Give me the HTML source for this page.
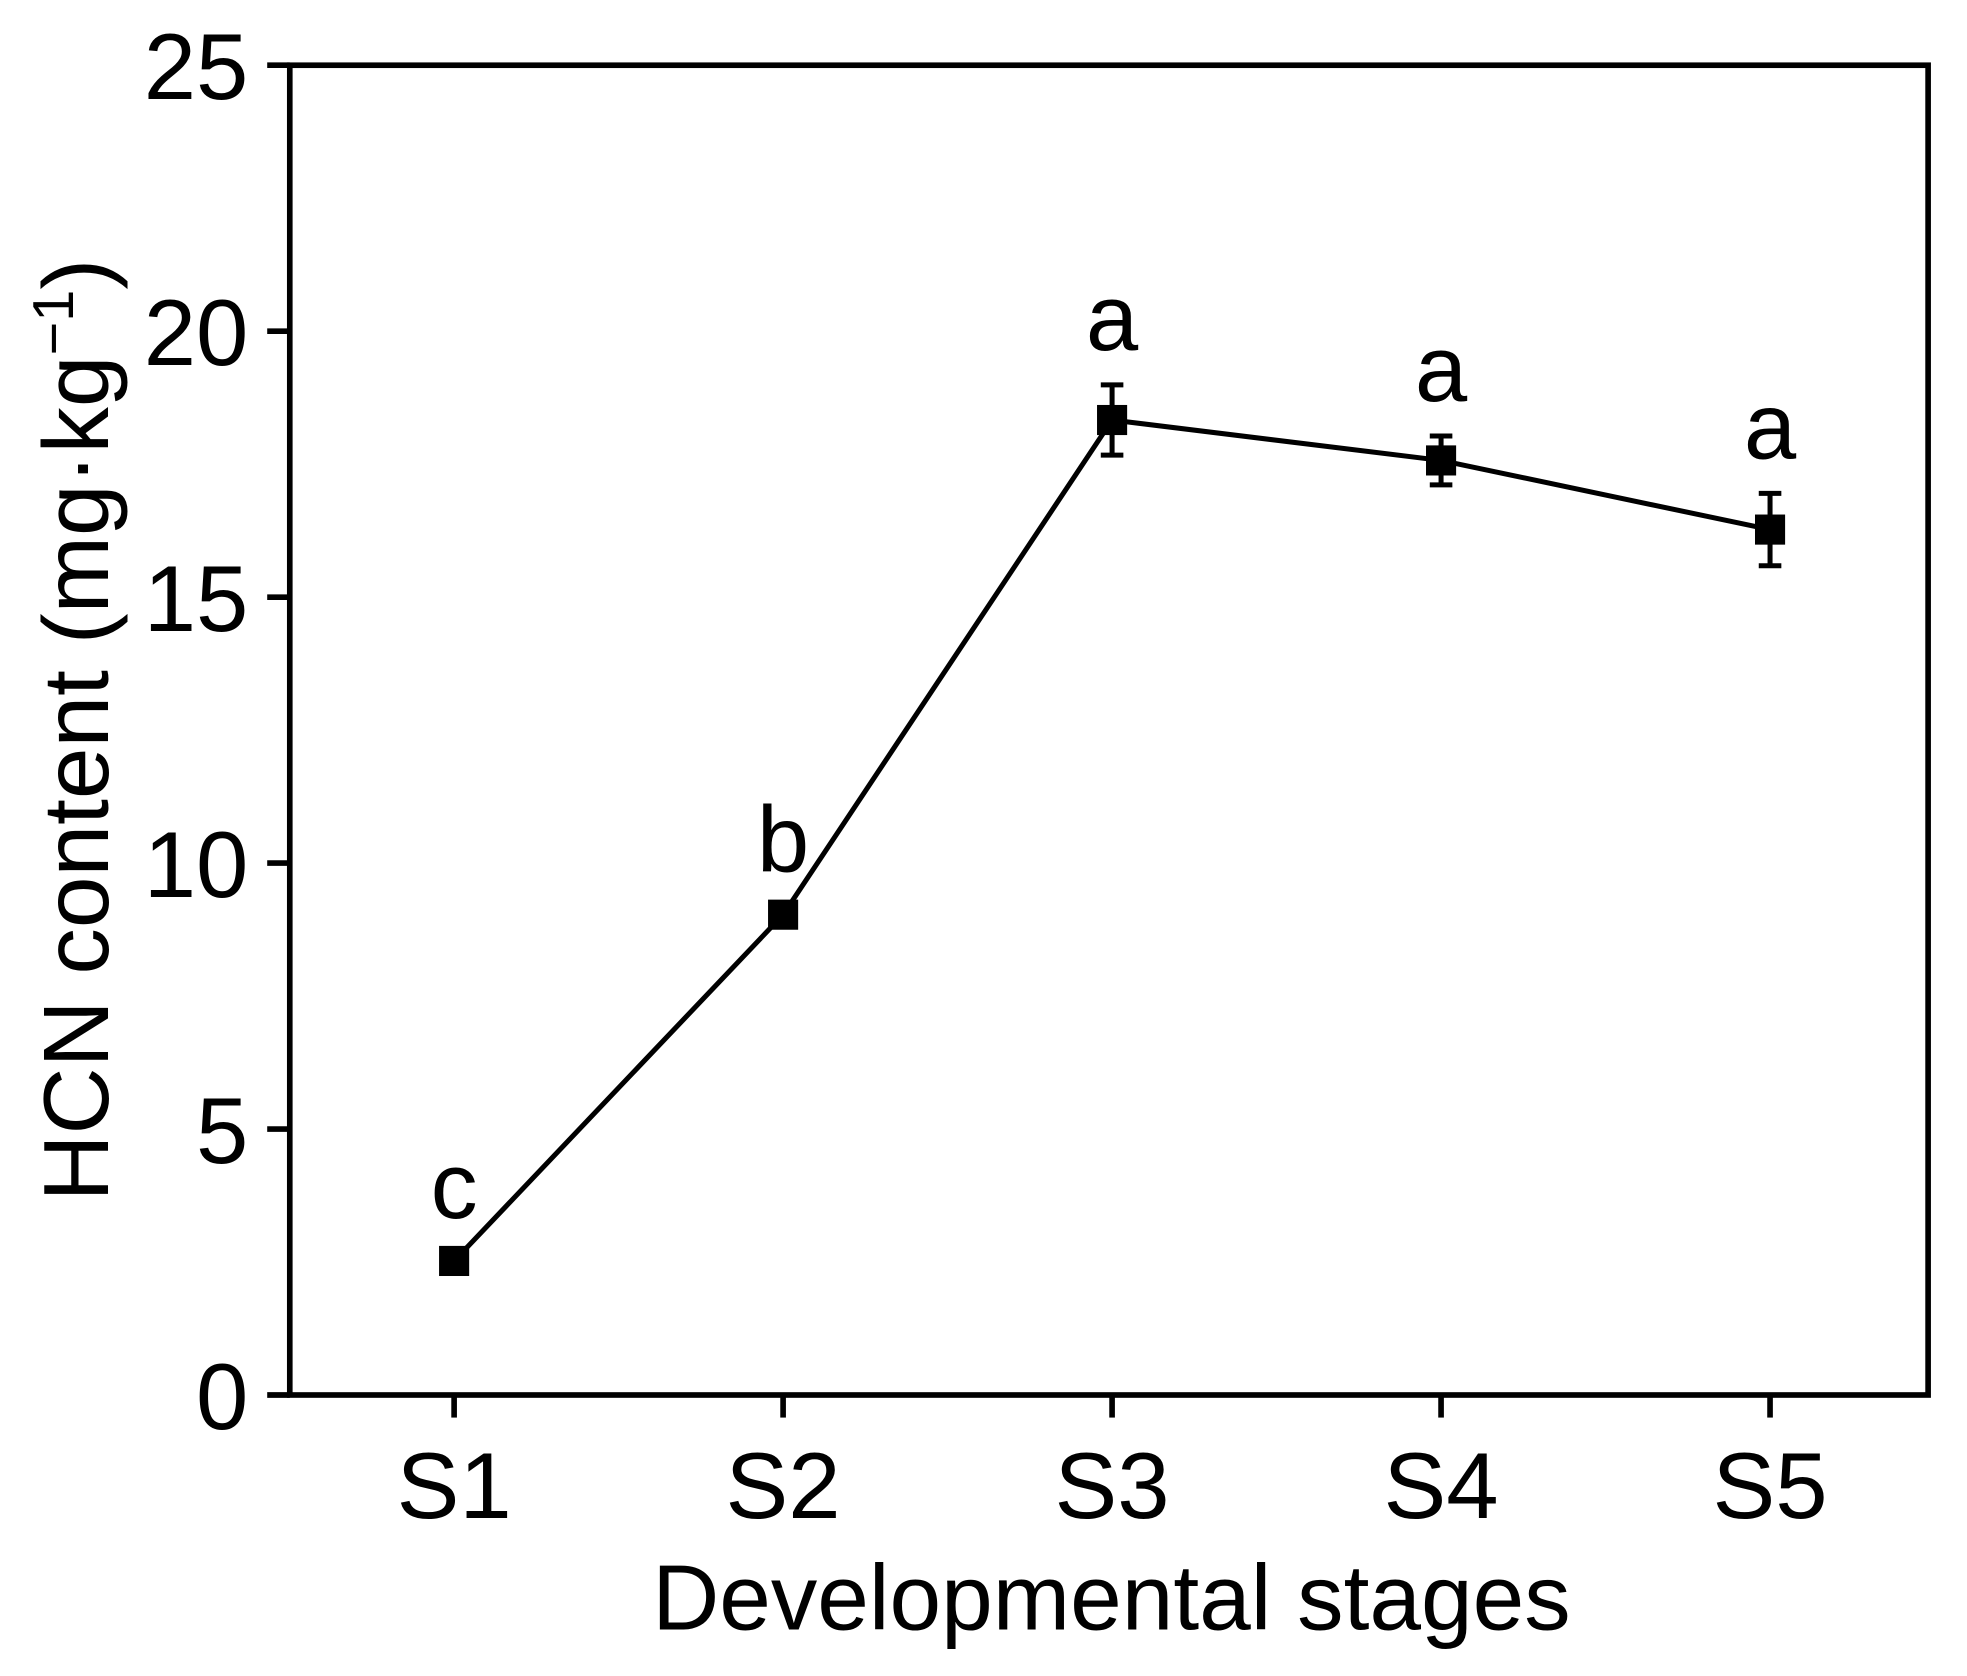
<!DOCTYPE html>
<html><head><meta charset="utf-8"><style>html,body{margin:0;padding:0;background:#fff}svg{display:block}</style></head>
<body>
<svg width="1967" height="1676" viewBox="0 0 1568 1336" preserveAspectRatio="none" xmlns="http://www.w3.org/2000/svg" font-family="Liberation Sans, Arial, sans-serif">
<g id="g"></g>
</svg>
<script>
const categories = ["S1","S2","S3","S4","S5"];
const values = [2.52, 9.03, 18.33, 17.57, 16.27];
const errors = [0.15, 0.15, 0.66, 0.46, 0.68];
const letters = ["c","b","a","a","a"];
const yTicks = [0,5,10,15,20,25];

const L=231,R=1537,T=52,B=1112;
const y=v=>B-(v/25)*(B-T);
const x=i=>362+i*262.25;
const g=document.getElementById('g');
const NS='http://www.w3.org/2000/svg';
function mk(t,a,txt){const e=document.createElementNS(NS,t);for(const k in a)e.setAttribute(k,a[k]);if(txt!==undefined)e.textContent=txt;g.appendChild(e);return e;}

let e=mk('rect',{x:L,y:T,width:R-L,height:B-T,fill:'none',stroke:'#000','stroke-width':4.5});



yTicks.forEach(v=>{
  let t=mk('line',{x1:L-18,x2:L,y1:y(v),y2:y(v),stroke:'#000','stroke-width':4.5});
  
  
  let l=mk('text',{x:198,y:y(v)+27,'text-anchor':'end','font-size':75},String(v));
  
  
});
categories.forEach((c,i)=>{
  let t=mk('line',{x1:x(i),x2:x(i),y1:B,y2:B+18,stroke:'#000','stroke-width':4.5});
  
  
  let l=mk('text',{x:x(i),y:1210,'text-anchor':'middle','font-size':75},c);
  
  
});
let pts=values.map((v,i)=>x(i)+','+y(v)).join(' ');
e=mk('polyline',{points:pts,fill:'none',stroke:'#000','stroke-width':4});


values.forEach((v,i)=>{
  const cx=x(i),t=y(v+errors[i]),b=y(v-errors[i]);
  let eb=mk('path',{d:`M${cx},${t}V${b}M${cx-9},${t}H${cx+9}M${cx-9},${b}H${cx+9}`,stroke:'#000','stroke-width':4,fill:'none'});
  
  
  let m=mk('rect',{x:cx-12,y:y(v)-12,width:24,height:24,fill:'#000'});
  
  
  let s=mk('text',{x:cx,y:t-28,'text-anchor':'middle','font-size':75},letters[i]);
  
  
});
e=mk('text',{x:886,y:1299,'text-anchor':'middle','font-size':74},'Developmental stages');


e=mk('text',{x:0,y:0,'text-anchor':'middle','font-size':74,transform:'translate(86,582) rotate(-90)'});


e.innerHTML='HCN content (mg·kg<tspan dy="-28" font-size="46">−1</tspan><tspan dy="28">)</tspan>';
</script>
</body></html>
